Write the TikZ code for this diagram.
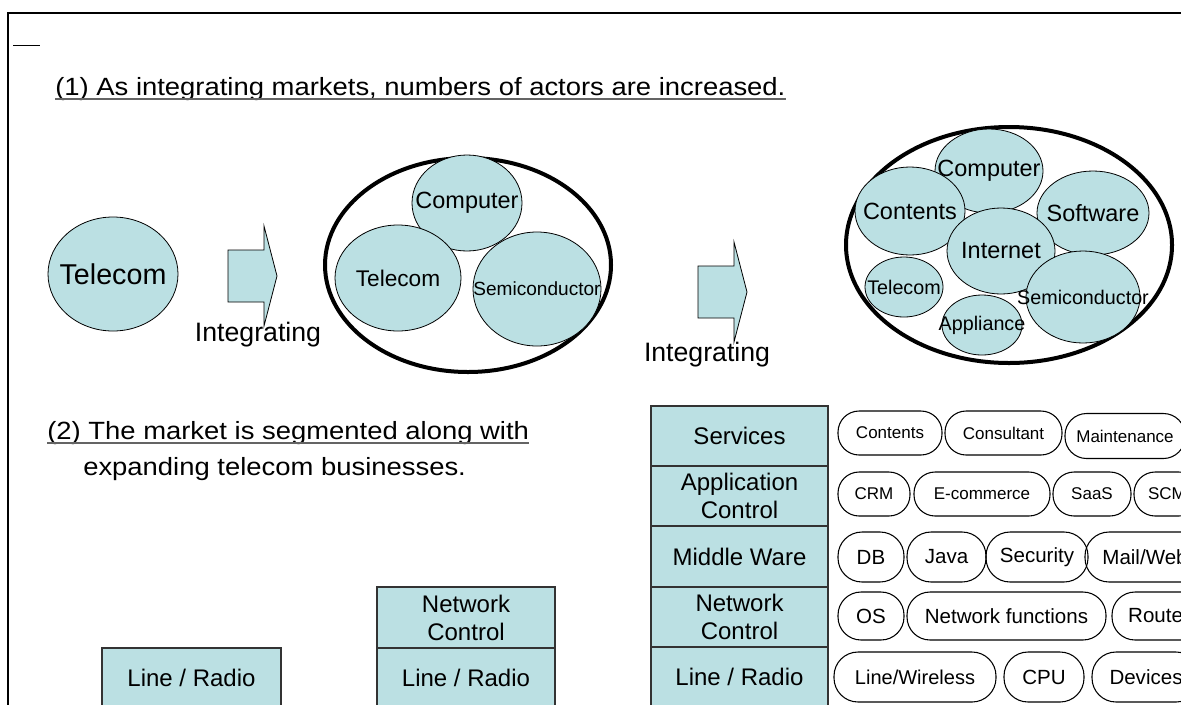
\documentclass[tikz,border=0pt]{standalone}
\usepackage{fontspec}
\setmainfont{Liberation Sans}
\newfontfamily\titlefont{Liberation Sans}[FakeStretch=1.1]
\usetikzlibrary{calc,shapes.geometric}
\definecolor{cy}{RGB}{187,224,227}
\definecolor{ul}{RGB}{100,100,100}
\begin{document}
\begin{tikzpicture}[x=0.75pt,y=-0.75pt,
  bub/.style n args={2}{ellipse, draw=black, line width=0.6pt, fill=cy, inner sep=0pt,
     minimum width=#1*1.5pt, minimum height=#2*1.5pt},
  ring/.style n args={2}{ellipse, draw=black, line width=3pt, inner sep=0pt,
     minimum width=#1*1.5pt, minimum height=#2*1.5pt},
  layer/.style n args={2}{draw=black!80, line width=1.1pt, fill=cy, inner sep=0pt,
     minimum width=#1*0.75pt, minimum height=#2*0.75pt, align=center,
     font=\fontsize{18}{21}\selectfont},
  pill/.style n args={2}{draw=black, line width=0.8pt, rounded corners=#2*0.36pt, inner sep=0pt,
     minimum width=#1*0.75pt, minimum height=#2*0.75pt},
  big/.style={font=\fontsize{17.6}{20}\selectfont},
  mid/.style={font=\fontsize{14.8}{17}\selectfont},
  sm/.style={font=\fontsize{12.75}{15}\selectfont},
  md/.style={font=\fontsize{15.4}{18}\selectfont},
  ttl/.style={inner sep=0pt, font=\titlefont\fontsize{18.7}{21}\selectfont},
  uline/.style={draw=ul, line width=1.1pt},
  blockarrow/.style={draw=black, line width=0.6pt, fill=cy},
  lab/.style={inner sep=0pt, font=\fontsize{20}{24}\selectfont}
]
\useasboundingbox (0,0) rectangle (1181,704);
\clip (0,0) rectangle (1181,704);
\fill[white] (0,0) rectangle (1181,704);

% frame
\draw[line width=1.8pt] (1220,13) -- (8,13) -- (8,730);
\draw[line width=0.75pt] (13,45) -- (40,45);

% titles
\node[ttl, anchor=base west] (t1) at (55,95) {(1) As integrating markets, numbers of actors are increased.};
\draw[uline] ($(t1.base west)+(0,4)$) -- ($(t1.base east)+(0,4)$);
\node[ttl, anchor=base west] (t2) at (47,439) {(2) The market is segmented along with};
\draw[uline] ($(t2.base west)+(0,4)$) -- ($(t2.base east)+(0,4)$);
\node[ttl, anchor=base west] (t3) at (83,475) {expanding telecom businesses.};

% stage 1
\node[bub={65}{57}, font=\fontsize{21.5}{25}\selectfont] (tel1) at (113,274) {\makebox[0pt]{Telecom}};
\draw[blockarrow] (228,250) -- (264,250) -- (264,226) -- (277,276) -- (264,326) -- (264,302) -- (228,302) -- cycle;
\node[lab] (int1) at (258,335) {Integrating};

% stage 2
\node[ring={143}{107}] (r2) at (468,265) {};
\node[bub={55}{48}, big] (comp2) at (467,203) {\makebox[0pt]{Computer}};
\node[bub={63}{53}, font=\fontsize{17}{20}\selectfont] (tel2) at (398,278) {\makebox[0pt]{Telecom}};
\node[bub={64}{57}, font=\fontsize{14.3}{17}\selectfont] (semi2) at (537,289) {\makebox[0pt]{Semiconductor}};

\draw[blockarrow] (698,266) -- (734,266) -- (734,242) -- (747,292) -- (734,342) -- (734,318) -- (698,318) -- cycle;
\node[lab] (int2) at (707,355) {Integrating};

% stage 3
\node[ring={163}{118}] (r3) at (1009,245) {};
\node[bub={54}{42}, big] (comp3) at (989,171) {\makebox[0pt]{Computer}};
\node[bub={55}{44}, big] (cont3) at (910,211) {\makebox[0pt]{Contents}};
\node[bub={56}{42}, big] (soft3) at (1093,213) {\makebox[0pt]{Software}};
\node[bub={54}{43}, big] (inet3) at (1001,251) {\makebox[0pt]{Internet}};
\node[bub={57}{46}, mid] (semi3) at (1083,297) {\makebox[0pt]{Semiconductor}};
\node[bub={39}{30}, mid] (tel3) at (904,287) {\makebox[0pt]{Telecom}};
\node[bub={40}{30}, mid] (app3) at (982,325) {\makebox[0pt]{Appliance}};

% layer stacks
\node[layer={179}{60}] (lr1) at (191.5,678) {Line / Radio};

\node[layer={178}{61}] (nc2) at (466,617.5) {Network\\Control};
\node[layer={178}{60}] (lr2) at (466,678) {Line / Radio};

\node[layer={177}{60}] (sv3) at (739.5,436) {Services};
\node[layer={177}{60}] (ac3) at (739.5,496) {Application\\Control};
\node[layer={177}{61}] (mw3) at (739.5,556.5) {Middle Ware};
\node[layer={177}{60}] (nc3) at (739.5,617) {Network\\Control};
\node[layer={177}{60}] (lr3) at (739.5,677) {Line / Radio};

% pills row 1
\node[pill={104}{44}, sm] (p11) at (890,433) {Contents};
\node[pill={117}{44}, sm] (p12) at (1003.5,433) {Consultant};
\node[pill={120}{45}, sm] (p13) at (1125,436) {Maintenance};
% row 2
\node[pill={72}{44}, sm] (p21) at (874,494) {CRM};
\node[pill={136}{44}, sm] (p22) at (982,494) {E-commerce};
\node[pill={78}{44}, sm] (p23) at (1092,494) {SaaS};
\node[pill={66}{44}, sm] (p24) at (1167,494) {SCM};
% row 3
\node[pill={66}{50}, md] (p31) at (871,557) {DB};
\node[pill={79}{50}, md] (p32) at (946.5,557) {Java};
\node[pill={102}{50}, md] (p33) at (1037,557) {Security};
\node[pill={120}{50}, md] (p34) at (1145,557) {Mail/Web};
% row 4
\node[pill={66}{48}, md] (p41) at (871,616) {OS};
\node[pill={199}{48}, md] (p42) at (1006.5,616) {Network functions};
\node[pill={94}{48}, md] (p43) at (1159,616) {Router};
% row 5
\node[pill={162}{50}, font=\fontsize{15}{18}\selectfont] (p51) at (915,677) {Line/Wireless};
\node[pill={80}{50}, md] (p52) at (1044,677) {CPU};
\node[pill={108}{50}, md] (p53) at (1146,677) {Devices};
\end{tikzpicture}
\end{document}
